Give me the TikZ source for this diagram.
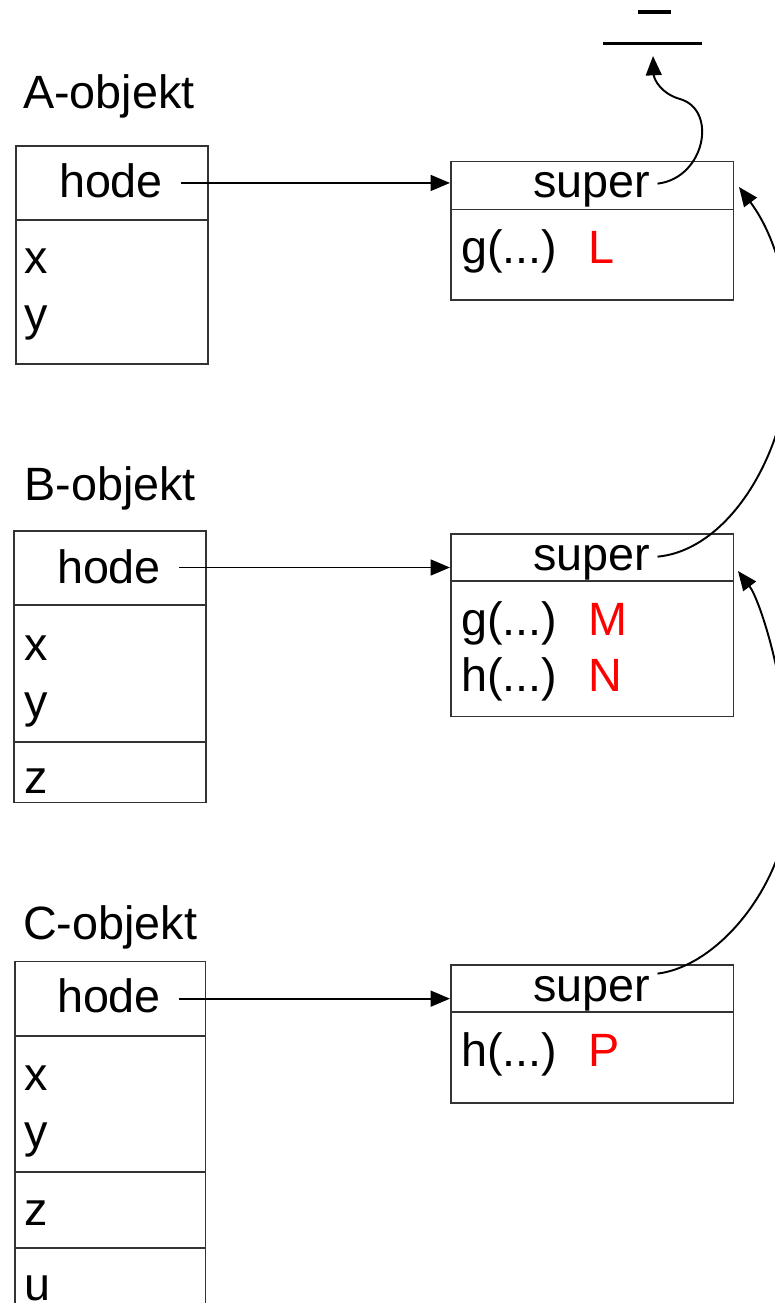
\documentclass[tikz,border=0pt]{standalone}
\usepackage{fontspec}
\setmainfont{Liberation Sans}
\usetikzlibrary{arrows.meta}

\tikzset{
  box/.style={draw=black!80, line width=0.9pt, inner sep=0pt, anchor=north west},
  rule/.style={draw=black!80, line width=0.9pt},
  txt/.style={inner sep=0pt, anchor=base west},
  ctr/.style={inner sep=0pt, anchor=base},
  rtxt/.style={txt, text=red},
  link/.style={-{Triangle[length=11pt,width=9pt]}, line width=1.1pt},
}

\begin{document}
\begin{tikzpicture}[x=0.02cm, y=-0.02cm, font=\fontsize{26.6}{32}\selectfont]
  \useasboundingbox (0,0) rectangle (775,1303);
  \clip (0,0) rectangle (775,1303);

  % null
  \draw[line width=2pt] (638,12) -- (671,12);
  \draw[line width=2pt] (603,43.3) -- (702,43.3);
  \coordinate (nil) at (653,56);
  \coordinate (ain) at (739,187);
  \coordinate (bin) at (738,571);

  % A-objekt
  \node[txt] (atitle) at (22.7,108) {A-objekt};
  \node[box, minimum width=3.84cm, minimum height=4.36cm] (aobj) at (15,145) {};
  \draw[rule] (15,220) -- (207,220);
  \node[ctr] (ahode) at (111,197) {hode};
  \node[txt] (ax) at (24,273) {x};
  \node[txt] (ay) at (24,330) {y};

  \node[box, minimum width=5.654cm, minimum height=2.766cm] (asup) at (450,160.7) {};
  \draw[rule] (450,209.3) -- (732.7,209.3);
  \node[ctr] (asuper) at (591.7,197.7) {super};
  \node[txt] (ag) at (460.7,263.3) {g(...)};
  \node[rtxt] (al) at (587.7,263.3) {L};

  % B-objekt
  \node[txt] (btitle) at (24,500) {B-objekt};
  \node[box, minimum width=3.834cm, minimum height=5.434cm] (bobj) at (13.3,530) {};
  \draw[rule] (13.3,605) -- (205,605);
  \draw[rule] (13.3,741.7) -- (205,741.7);
  \node[ctr] (bhode) at (109,583.3) {hode};
  \node[txt] (bx) at (24,660) {x};
  \node[txt] (by) at (24,717) {y};
  \node[txt] (bz) at (24,793) {z};

  \node[box, minimum width=5.654cm, minimum height=3.648cm] (bsup) at (450,533.3) {};
  \draw[rule] (450,581) -- (732.7,581);
  \node[ctr] (bsuper) at (591.7,570.7) {super};
  \node[txt] (bg) at (460.7,635) {g(...)};
  \node[rtxt] (bm) at (587.7,635) {M};
  \node[txt] (bh) at (460.7,691.7) {h(...)};
  \node[rtxt] (bn) at (587.7,691.7) {N};

  % C-objekt
  \node[txt] (ctitle) at (22.7,939) {C-objekt};
  \node[box, minimum width=3.814cm, minimum height=7.2cm] (cobj) at (14,960.7) {};
  \draw[rule] (14,1035.7) -- (204.7,1035.7);
  \draw[rule] (14,1171.7) -- (204.7,1171.7);
  \draw[rule] (14,1248) -- (204.7,1248);
  \node[ctr] (chode) at (109,1012.7) {hode};
  \node[txt] (cx) at (24,1090) {x};
  \node[txt] (cy) at (24,1147) {y};
  \node[txt] (cz) at (24,1225) {z};
  \node[txt] (cu) at (24,1300) {u};

  \node[box, minimum width=5.654cm, minimum height=2.76cm] (csup) at (450,964.3) {};
  \draw[rule] (450,1011.7) -- (732.7,1011.7);
  \node[ctr] (csuper) at (591.7,1001.7) {super};
  \node[txt] (ch) at (460.7,1066.7) {h(...)};
  \node[rtxt] (cp) at (587.7,1066.7) {P};

  % pekere
  \draw[link, shorten <=10pt] ([yshift=8pt]ahode.base east) -- ([yshift=8pt]ahode.base east -| asup.west);
  \draw[link, shorten <=10pt] ([yshift=9pt]bhode.base east) -- ([yshift=9pt]bhode.base east -| bsup.west);
  \draw[link, shorten <=10pt] ([yshift=8pt]chode.base east) -- ([yshift=8pt]chode.base east -| csup.west);

  \draw[link] ([xshift=4pt,yshift=8pt]asuper.base east) .. controls (705,178) and (718,110) .. (680,99)
    .. controls (662,94) and (654,80) .. (nil);
  \draw[link] ([xshift=4pt,yshift=8pt]bsuper.base east) .. controls (730,550) and (790,450) .. (790,350)
    .. controls (790,260) and (760,215) .. (ain);
  \draw[link] ([xshift=4pt,yshift=16pt]csuper.base east) .. controls (720,966) and (790,880) .. (790,790)
    .. controls (790,690) and (760,600) .. (bin);
\end{tikzpicture}
\end{document}
